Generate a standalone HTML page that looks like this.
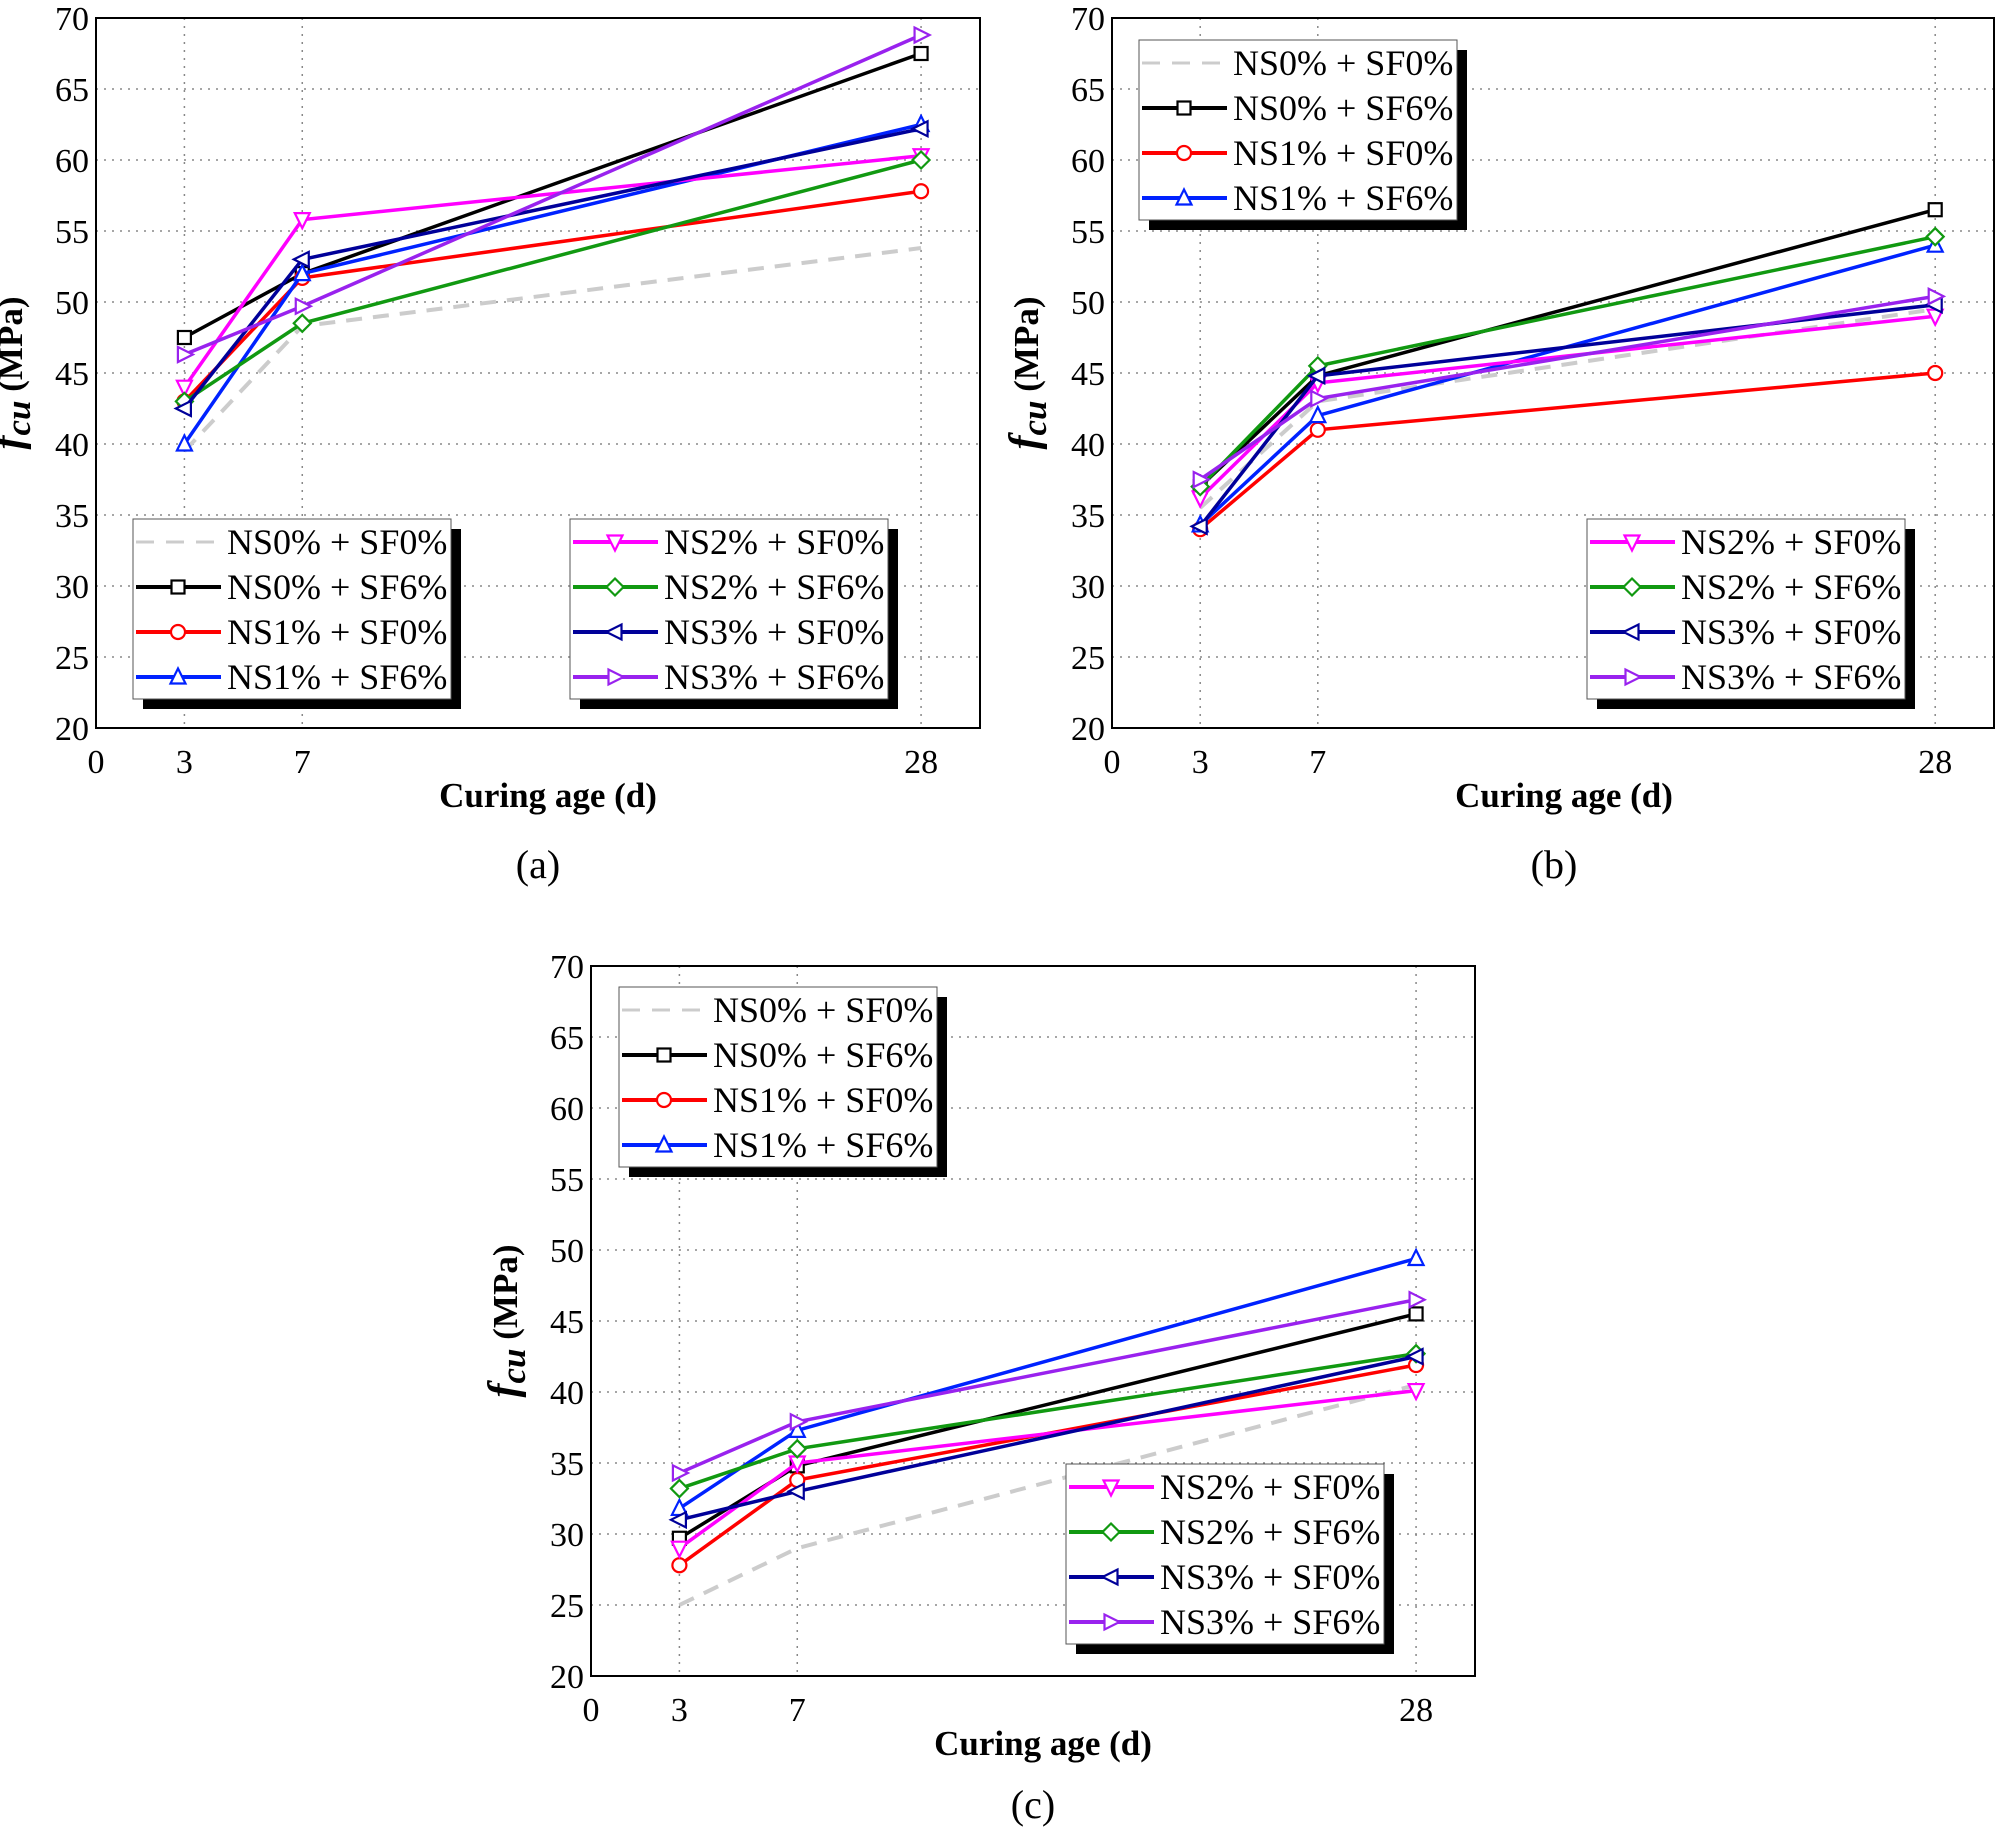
<!DOCTYPE html>
<html><head><meta charset="utf-8"><style>
body{margin:0;background:#fff}
svg{display:block;font-family:"Liberation Serif",serif}
</style></head><body>
<svg id="chart" width="2000" height="1830" viewBox="0 0 2000 1830" xmlns="http://www.w3.org/2000/svg"></svg>
<script>
const ages = [3, 7, 28];
const xTicks = [0, 3, 7, 28];
const yTicks = [20, 25, 30, 35, 40, 45, 50, 55, 60, 65, 70];
const seriesNames = ["NS0% + SF0%","NS0% + SF6%","NS1% + SF0%","NS1% + SF6%","NS2% + SF0%","NS2% + SF6%","NS3% + SF0%","NS3% + SF6%"];
const seriesColors = ["#cccccc","#000000","#ff0000","#0022ff","#ff00ff","#119911","#000099","#9922ee"];
const seriesMarkers = ["none","square","circle","up","down","diamond","left","right"];
// panel (a)
const aNS0SF0 = [39.5, 48.3, 53.8];
const aNS0SF6 = [47.5, 52.0, 67.5];
const aNS1SF0 = [43.0, 51.7, 57.8];
const aNS1SF6 = [40.0, 52.0, 62.5];
const aNS2SF0 = [44.0, 55.8, 60.3];
const aNS2SF6 = [43.0, 48.5, 60.0];
const aNS3SF0 = [42.5, 53.0, 62.2];
const aNS3SF6 = [46.3, 49.7, 68.8];
// panel (b)
const bNS0SF0 = [35.5, 43.0, 49.5];
const bNS0SF6 = [37.0, 44.8, 56.5];
const bNS1SF0 = [34.0, 41.0, 45.0];
const bNS1SF6 = [34.3, 42.0, 54.0];
const bNS2SF0 = [36.2, 44.3, 49.0];
const bNS2SF6 = [37.0, 45.5, 54.6];
const bNS3SF0 = [34.2, 44.8, 49.8];
const bNS3SF6 = [37.5, 43.2, 50.4];
// panel (c)
const cNS0SF0 = [25.0, 29.0, 40.5];
const cNS0SF6 = [29.7, 34.8, 45.5];
const cNS1SF0 = [27.8, 33.8, 41.9];
const cNS1SF6 = [31.8, 37.3, 49.4];
const cNS2SF0 = [29.0, 35.0, 40.1];
const cNS2SF6 = [33.2, 36.0, 42.7];
const cNS3SF0 = [31.0, 33.0, 42.5];
const cNS3SF6 = [34.3, 37.9, 46.5];

const NS = "http://www.w3.org/2000/svg";
const svg = document.getElementById("chart");
function mk(tag, attrs, parent){const e=document.createElementNS(NS,tag);for(const k in attrs)e.setAttribute(k,attrs[k]);(parent||svg).appendChild(e);return e;}

function marker(g, type, cx, cy, color){
  const s=7.5; let e;
  const st={fill:"#fff",stroke:color,"stroke-width":2.2};
  if(type==="square") e=mk("rect",Object.assign({x:cx-s+1,y:cy-s+1,width:2*s-2,height:2*s-2},st),g);
  else if(type==="circle") e=mk("circle",Object.assign({cx:cx,cy:cy,r:s-0.5},st),g);
  else {
    let p;
    if(type==="up") p=[[cx,cy-s-1],[cx-s,cy+s-1],[cx+s,cy+s-1]];
    else if(type==="down") p=[[cx,cy+s+1],[cx-s,cy-s+1],[cx+s,cy-s+1]];
    else if(type==="diamond") p=[[cx,cy-s-1],[cx+s+1,cy],[cx,cy+s+1],[cx-s-1,cy]];
    else if(type==="left") p=[[cx-s-1,cy],[cx+s-1,cy-s],[cx+s-1,cy+s]];
    else p=[[cx+s+1,cy],[cx-s+1,cy-s],[cx-s+1,cy+s]];
    e=mk("polygon",Object.assign({points:p.map(q=>q.join(",")).join(" ")},st),g);
  }
  
  
}

function legend(g, bx, by, idxs, id){
  const lg=mk("g",{},g);
  
  
  const w=318,h=180;
  mk("rect",{x:bx+10,y:by+10,width:w,height:h,fill:"#000"},lg);
  mk("rect",{x:bx,y:by,width:w,height:h,fill:"#fff",stroke:"#555","stroke-width":1},lg);
  idxs.forEach((si,r)=>{
    const ry=by+23+r*45;
    const en=mk("g",{},lg);
    
    
    const ln=mk("line",{x1:bx+3,y1:ry,x2:bx+88,y2:ry,stroke:seriesColors[si],"stroke-width":4},en);
    if(si===0){ln.setAttribute("stroke-dasharray","18 12");ln.setAttribute("stroke-width",3);}
    if(seriesMarkers[si]!=="none") marker(en,seriesMarkers[si],bx+45,ry,seriesColors[si]);
    const t=mk("text",{x:bx+94,y:ry+12,"font-size":36,fill:"#000"},en);
    t.textContent=seriesNames[si];
  });
}

function panel(id, L, R, T, B, data, leg1, leg2, titleX, ytitleX, labelY){
  const g=mk("g",{});
  
  
  const xs=v=>L+(v/30)*(R-L);
  const ys=v=>B-(v-20)/50*(B-T);
  yTicks.forEach(v=>{ if(v>20&&v<70){ const l=mk("line",{x1:L,y1:ys(v),x2:R,y2:ys(v),stroke:"#888","stroke-width":1.5,"stroke-dasharray":"2 6"},g);
      }});
  ages.forEach(v=>{ const l=mk("line",{x1:xs(v),y1:T,x2:xs(v),y2:B,stroke:"#888","stroke-width":1.5,"stroke-dasharray":"2 6"},g);
      });
  const fr=mk("rect",{x:L,y:T,width:R-L,height:B-T,fill:"none",stroke:"#000","stroke-width":2},g);
   
  yTicks.forEach(v=>{ const t=mk("text",{x:L-7,y:ys(v)+12,"font-size":34,"text-anchor":"end"},g); t.textContent=v;
      });
  xTicks.forEach(v=>{ const t=mk("text",{x:xs(v),y:B+45,"font-size":34,"text-anchor":"middle"},g); t.textContent=v;
      });
  const xt=mk("text",{x:titleX,y:B+79,"font-size":35,"font-weight":"bold","text-anchor":"middle"},g);
  xt.textContent="Curing age (d)";
   
  const cy=(T+B)/2;
  const yt=mk("text",{x:ytitleX,y:cy,"font-size":35,"font-weight":"bold","text-anchor":"middle",transform:`rotate(-90 ${ytitleX} ${cy})`},g);
  yt.innerHTML='<tspan font-style="italic" font-size="42">f</tspan><tspan font-style="italic" dy="8">cu</tspan><tspan dy="-8"> (MPa)</tspan>';
   
  const pl=mk("text",{x:titleX-10,y:labelY,"font-size":40,"text-anchor":"middle"},g);
  pl.textContent="("+id+")";
   
  data.forEach((vals,si)=>{
    const sg=mk("g",{},g);
    
    
    const pts=vals.map((v,i)=>xs(ages[i])+","+ys(v)).join(" ");
    const pl=mk("polyline",{points:pts,fill:"none",stroke:seriesColors[si],"stroke-width":si===0?4:3.5},sg);
    if(si===0) pl.setAttribute("stroke-dasharray","16 11");
     
    if(seriesMarkers[si]!=="none") vals.forEach((v,i)=>marker(sg,seriesMarkers[si],xs(ages[i]),ys(v),seriesColors[si]));
  });
  legend(g, leg1[0], leg1[1], [0,1,2,3], id+'-1');
  legend(g, leg2[0], leg2[1], [4,5,6,7], id+'-2');
}

panel("a",96,980,18,728,[aNS0SF0,aNS0SF6,aNS1SF0,aNS1SF6,aNS2SF0,aNS2SF6,aNS3SF0,aNS3SF6],[133,519],[570,519],548,22,878);
panel("b",1112,1994,18,728,[bNS0SF0,bNS0SF6,bNS1SF0,bNS1SF6,bNS2SF0,bNS2SF6,bNS3SF0,bNS3SF6],[1139,40],[1587,519],1564,1038,878);
panel("c",591,1475,966,1676,[cNS0SF0,cNS0SF6,cNS1SF0,cNS1SF6,cNS2SF0,cNS2SF6,cNS3SF0,cNS3SF6],[619,987],[1066,1464],1043,517,1818);
</script>
</body></html>
